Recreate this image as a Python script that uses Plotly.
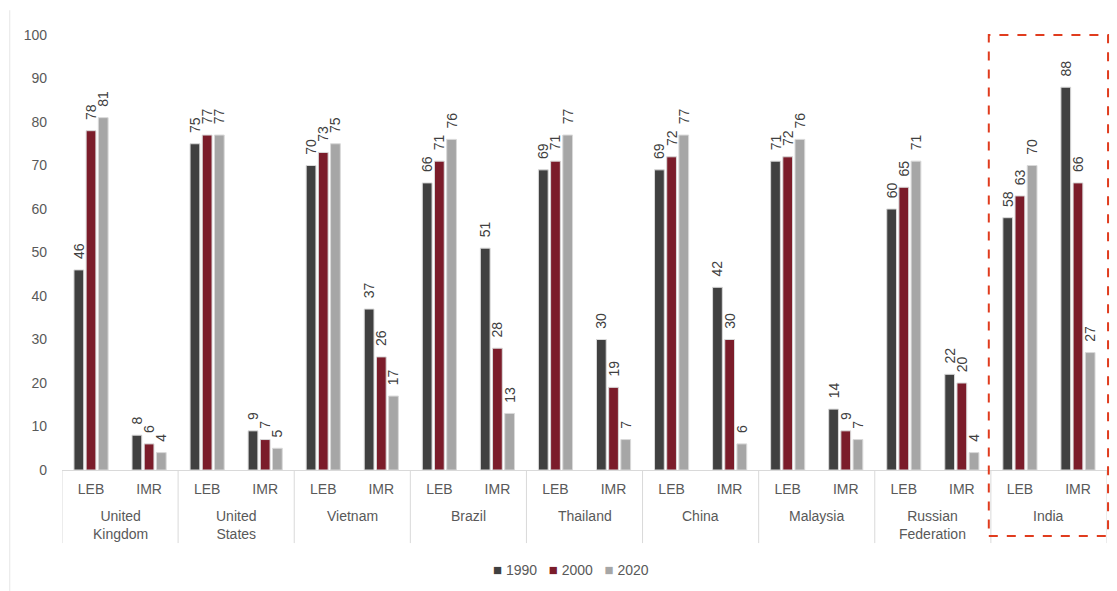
import plotly.graph_objects as go

countries = ["United<br>Kingdom", "United<br>States", "Vietnam", "Brazil", "Thailand",
             "China", "Malaysia", "Russian<br>Federation", "India"]
measures = ["LEB", "IMR"]
years = ["1990", "2000", "2020"]

leb_1990 = [46, 75, 70, 66, 69, 69, 71, 60, 58]
leb_2000 = [78, 77, 73, 71, 71, 72, 72, 65, 63]
leb_2020 = [81, 77, 75, 76, 77, 77, 76, 71, 70]
imr_1990 = [8, 9, 37, 51, 30, 42, 14, 22, 88]
imr_2000 = [6, 7, 26, 28, 19, 30, 9, 20, 66]
imr_2020 = [4, 5, 17, 13, 7, 6, 7, 4, 27]

colors = ["#404040", "#7B1C2A", "#A6A6A6"]
axis_grey = "#D9D9D9"
label_grey = "#595959"


def interleave(leb, imr):
    out = []
    for a, b in zip(leb, imr):
        out += [a, b]
    return out


series = [interleave(leb_1990, imr_1990),
          interleave(leb_2000, imr_2000),
          interleave(leb_2020, imr_2020)]

n = len(countries) * len(measures)
xpos = list(range(n))
ticktext = [m for _ in countries for m in measures]

fig = go.Figure()
for year, vals, col in zip(years, series, colors):
    fig.add_trace(go.Bar(
        x=xpos,
        y=vals,
        name=year,
        marker=dict(color=col, line=dict(color=axis_grey, width=1)),
        # leading nbsp pushes the rotated label a bit further off the bar
        text=["\u00a0\u00a0" + str(v) for v in vals],
        textposition="outside",
        textangle=-90,
        textfont=dict(size=14, color="#404040"),
        cliponaxis=False,
    ))

fig.update_layout(
    width=1117, height=591,
    margin=dict(l=62, r=10, t=35, b=121, autoexpand=False),
    plot_bgcolor="white",
    paper_bgcolor="white",
    font=dict(family="Liberation Sans, Arial, sans-serif", size=14, color=label_grey),
    barmode="group",
    bargap=0.37,
    bargroupgap=0.2,
    uniformtext=dict(minsize=14, mode="show"),
    showlegend=False,
    xaxis=dict(
        range=[-0.5, n - 0.5],
        tickvals=xpos, ticktext=ticktext,
        showline=True, linecolor=axis_grey, linewidth=1,
        showgrid=False, zeroline=False, ticks="",
        ticklabelstandoff=6,
        tickfont=dict(size=14, color=label_grey),
        automargin=False,
    ),
    yaxis=dict(
        range=[0, 100], dtick=10, showgrid=False, zeroline=False, showline=False,
        tickfont=dict(size=14, color=label_grey), ticks="",
        ticklabelstandoff=14,
        automargin=False,
    ),
)

# country labels and dividers under the axis
for i, c in enumerate(countries):
    fig.add_annotation(x=2 * i + 0.5, y=-0.083, xref="x", yref="paper",
                       text=c, showarrow=False, yanchor="top",
                       font=dict(size=14, color=label_grey))
for i in range(len(countries) + 1):
    fig.add_shape(type="line", xref="x", yref="paper",
                  x0=2 * i - 0.5, x1=2 * i - 0.5, y0=0, y1=-0.168,
                  line=dict(color=axis_grey, width=1))

# compact legend like the original
legend_text = "&nbsp;&nbsp;&nbsp;".join(
    f"<span style='color:{c};font-size:15px'>■</span>&nbsp;{y}"
    for y, c in zip(years, colors)
)
fig.add_annotation(x=0.487, y=-0.228, xref="paper", yref="paper",
                   text=legend_text, showarrow=False, xanchor="center", yanchor="middle",
                   font=dict(size=14, color=label_grey))

# highlight box around India
fig.add_shape(type="rect", xref="paper", yref="paper",
              x0=8 / 9 - 0.002, x1=1.001, y0=-0.152, y1=1.0,
              line=dict(color="#E03C1E", width=2, dash="dash"))
# left border of chart area
fig.add_shape(type="line", xref="paper", yref="paper",
              x0=-0.05, x1=-0.05, y0=-0.278, y1=1.057,
              line=dict(color="#E6E6E6", width=1))

fig.write_html("out.html", config={"displayModeBar": False},
               post_script="document.body.style.margin='0';")
